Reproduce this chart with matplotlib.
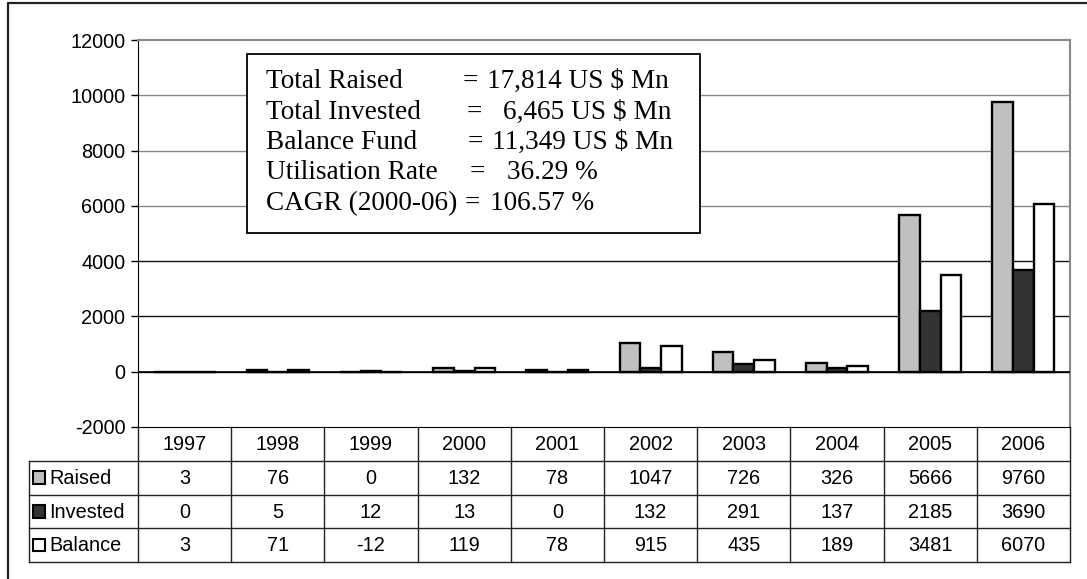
import numpy as np
import matplotlib
matplotlib.use("Agg")
import matplotlib.pyplot as plt
from matplotlib.patches import Rectangle

years = ["1997", "1998", "1999", "2000", "2001", "2002", "2003", "2004", "2005", "2006"]
raised = [3, 76, 0, 132, 78, 1047, 726, 326, 5666, 9760]
invested = [0, 5, 12, 13, 0, 132, 291, 137, 2185, 3690]
balance = [3, 71, -12, 119, 78, 915, 435, 189, 3481, 6070]

series_names = ["Raised", "Invested", "Balance"]
series_colors = ["#c0c0c0", "#333333", "#ffffff"]

box_labels = ["Total Raised", "Total Invested", "Balance Fund", "Utilisation Rate", "CAGR (2000-06)"]
box_values = ["17,814 US $ Mn", "6,465 US $ Mn", "11,349 US $ Mn", "36.29 %", "106.57 %"]

W, H = 1087, 579
plt.rcParams["font.family"] = ["Liberation Sans", "DejaVu Sans"]
plt.rcParams["axes.unicode_minus"] = False

fig = plt.figure(figsize=(W / 100, H / 100), dpi=100)


def px_box(x0, y0, x1, y1):
    # pixel rect (top-left origin) -> figure fraction
    return [x0 / W, 1 - y1 / H, (x1 - x0) / W, (y1 - y0) / H]


# main chart
ax = fig.add_axes(px_box(138, 40, 1070, 427))
x = np.arange(len(years))
bw = 0.222
for i, (vals, col) in enumerate(zip([raised, invested, balance], series_colors)):
    ax.bar(x + (i - 1) * bw, vals, width=bw, color=col, edgecolor="black",
           linewidth=1.7, zorder=3)

ax.set_xlim(-0.5, len(years) - 0.5)
ax.set_ylim(-2000, 12000)
yt = np.arange(-2000, 12001, 2000)
ax.set_yticks(yt)
ax.set_xticks([])
ax.tick_params(axis="y", length=5, width=1, pad=4, labelsize=14.3, color="black")
for v in yt[1:-1]:
    ax.axhline(v, color="#888888" if v > 4000 else "#111111", lw=1, zorder=1)
ax.axhline(0, color="black", lw=1.2, zorder=4)
for s in ["top", "right"]:
    ax.spines[s].set_color("#888888")
    ax.spines[s].set_linewidth(1.5)
ax.spines["left"].set_color("black")
ax.spines["bottom"].set_color("black")

# data table
tab = fig.add_axes(px_box(29, 427, 1070, 562))
left = -0.5 - (138 - 29) / 93.2
tab.set_xlim(left, len(years) - 0.5)
tab.set_ylim(4, 0)
tab.axis("off")
lc = "#222222"
for r in range(1, 5):
    tab.plot([left, len(years) - 0.5], [r, r], color=lc, lw=1, clip_on=False)
tab.plot([left, left], [1, 4], color=lc, lw=1, clip_on=False)
for c in range(len(years) + 1):
    tab.plot([c - 0.5, c - 0.5], [0, 4], color=lc, lw=1, clip_on=False)

for c, yr in enumerate(years):
    tab.text(c, 0.52, yr, ha="center", va="center", fontsize=14.3)
for r, vals in enumerate([raised, invested, balance], start=1):
    for c, v in enumerate(vals):
        tab.text(c, r + 0.52, str(v), ha="center", va="center", fontsize=14.3)

kx = left + 3.5 / 93.2
kw_ = 12.5 / 93.2
kh = 12.5 / 33.75
for r, (name, col) in enumerate(zip(series_names, series_colors), start=1):
    tab.add_patch(Rectangle((kx, r + 0.5 - kh / 2), kw_, kh, facecolor=col,
                            edgecolor="black", lw=1.5, clip_on=False))
    tab.text(left + 20.5 / 93.2, r + 0.52, name, ha="left", va="center", fontsize=14.3)

# overlay: outer frame and summary box
frame = fig.add_axes([0, 0, 1, 1])
frame.set_xlim(0, W)
frame.set_ylim(H, 0)
frame.axis("off")
frame.patch.set_alpha(0)
frame.plot([8, 8, W + 5], [H + 5, 3, 3], color="#222222", lw=1.6)

frame.add_patch(Rectangle((247, 54), 453, 179, facecolor="white", edgecolor="black",
                          lw=1.3, zorder=5))
eq_x = [463, 467, 468, 470, 465]
val_x = [487, 503, 492, 507, 490]
base_y = [88, 119, 149, 179, 210]
for lab, val, ex, vx, by in zip(box_labels, box_values, eq_x, val_x, base_y):
    kw = dict(fontsize=19.6, family="Liberation Serif", va="baseline", zorder=6)
    frame.text(266, by, lab, ha="left", **kw)
    frame.text(ex, by, "=", ha="left", **kw)
    frame.text(vx, by, val, ha="left", **kw)

fig.savefig("out.png", dpi=100)
